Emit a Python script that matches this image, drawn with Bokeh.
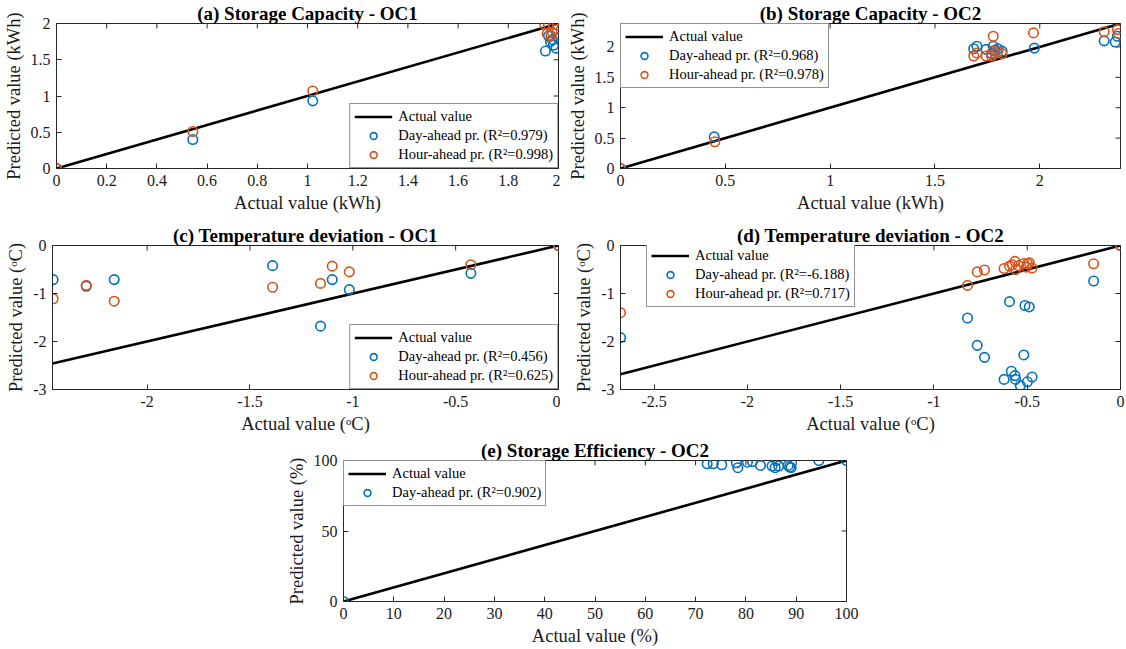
from bokeh.plotting import figure
from bokeh.layouts import column, row
from bokeh.models import FixedTicker, CustomJSTickFormatter, Range1d, Legend, LegendItem, Spacer
from bokeh.embed import file_html
from bokeh.resources import INLINE

BLUE = "#0072BD"
ORANGE = "#D95319"
FONT = "Liberation Serif"
AXIS_COLOR = "#262626"

# ---------------- (a) Storage Capacity - OC1 ----------------
a_range = [0.0, 2.0]
a_day_actual = [0.0, 0.543, 1.021, 1.948, 1.96, 1.968, 1.98, 1.99, 2.0, 1.975]
a_day_pred = [0.0, 0.40, 0.933, 1.62, 1.83, 1.75, 1.70, 1.66, 1.81, 1.78]
a_hour_actual = [0.0, 0.543, 1.021, 1.945, 1.96, 1.98, 1.995, 1.955, 1.975, 1.995, 1.97]
a_hour_pred = [0.0, 0.51, 1.07, 1.99, 1.98, 1.99, 1.98, 1.86, 1.88, 1.92, 1.83]
a_xticks = [0, 0.2, 0.4, 0.6, 0.8, 1, 1.2, 1.4, 1.6, 1.8, 2]
a_yticks = [0, 0.5, 1, 1.5, 2]

# ---------------- (b) Storage Capacity - OC2 ----------------
b_range = [0.0, 2.385]
b_day_actual = [0.0, 0.447, 1.685, 1.70, 1.744, 1.778, 1.787, 1.80, 1.82, 1.77,
                1.974, 2.307, 2.36, 2.37]
b_day_pred = [0.0, 0.52, 1.97, 2.01, 1.96, 2.01, 1.945, 1.97, 1.93, 1.89,
              1.98, 2.10, 2.08, 2.175]
b_hour_actual = [0.0, 0.45, 1.685, 1.70, 1.744, 1.778, 1.77, 1.787, 1.80, 1.82, 1.778,
                 1.97, 2.307, 2.37, 2.375]
b_hour_pred = [0.0, 0.44, 1.85, 1.90, 1.85, 2.175, 1.85, 1.89, 1.92, 1.89, 1.935,
               2.23, 2.25, 2.285, 2.22]
b_xticks = [0, 0.5, 1, 1.5, 2]
b_yticks = [0, 0.5, 1, 1.5, 2]

# ---------------- (c) Temperature deviation - OC1 ----------------
c_xrange = [-2.46, 0.0]
c_yrange = [-3.0, 0.0]
c_day_actual = [-2.457, -2.296, -2.16, -1.39, -1.10, -1.017, -1.157, -0.426, 0.0]
c_day_pred = [-0.71, -0.85, -0.71, -0.42, -0.71, -0.92, -1.68, -0.58, 0.0]
c_hour_actual = [-2.457, -2.296, -2.16, -1.39, -1.157, -1.10, -1.017, -0.426, 0.0]
c_hour_pred = [-1.11, -0.83, -1.16, -0.87, -0.79, -0.43, -0.55, -0.40, 0.0]
c_xticks = [-2, -1.5, -1, -0.5, 0]
c_yticks = [-3, -2, -1, 0]

# ---------------- (d) Temperature deviation - OC2 ----------------
d_xrange = [-2.68, 0.0]
d_yrange = [-3.0, 0.0]
d_day_actual = [-2.68, -0.82, -0.768, -0.729, -0.595, -0.512, -0.489, -0.518, -0.624,
                -0.585, -0.566, -0.562, -0.537, -0.499, -0.474, -0.144, 0.0]
d_day_pred = [-1.92, -1.51, -2.08, -2.33, -1.17, -1.25, -1.28, -2.28, -2.79,
              -2.62, -2.71, -2.79, -2.92, -2.84, -2.74, -0.74, 0.0]
d_hour_actual = [-2.68, -0.82, -0.768, -0.729, -0.624, -0.595, -0.580, -0.566, -0.562,
                 -0.547, -0.518, -0.505, -0.499, -0.489, -0.474, -0.144, 0.0]
d_hour_pred = [-1.40, -0.83, -0.55, -0.51, -0.48, -0.43, -0.40, -0.33, -0.50,
               -0.42, -0.375, -0.45, -0.38, -0.36, -0.47, -0.38, 0.0]
d_xticks = [-2.5, -2, -1.5, -1, -0.5, 0]
d_yticks = [-3, -2, -1, 0]

# ---------------- (e) Storage Efficiency - OC2 ----------------
e_range = [0.0, 100.0]
e_day_actual = [0.0, 72.3, 73.5, 75.2, 78.1, 78.4, 80.3, 81.3, 82.9, 85.2, 85.8,
                86.1, 86.5, 88.4, 88.7, 89.0, 94.5, 100.0]
e_day_pred = [0.0, 97.7, 97.7, 97.0, 98.4, 94.9, 98.8, 99.3, 96.5, 96.1, 94.9,
              100.0, 96.1, 96.5, 95.4, 94.9, 100.0, 100.0]
e_xticks = [0, 10, 20, 30, 40, 50, 60, 70, 80, 90, 100]
e_yticks = [0, 50, 100]

FMT = "return (Math.round(tick * 1000) / 1000).toString();"
TICK_LEN = 5  # inward tick length in screen pixels


def style_axis(ax, ticks):
    ax.ticker = FixedTicker(ticks=ticks)
    ax.formatter = CustomJSTickFormatter(code=FMT)
    ax.minor_tick_line_color = None
    ax.major_tick_in = TICK_LEN
    ax.major_tick_out = 0
    ax.axis_line_color = AXIS_COLOR
    ax.major_tick_line_color = AXIS_COLOR
    ax.major_label_text_font = FONT
    ax.axis_label_text_font = FONT
    ax.axis_label_text_font_style = "normal"
    ax.axis_label_text_color = "#1a1a1a"
    ax.major_label_text_color = "#1a1a1a"
    ax.major_label_text_font_size = "16px"
    ax.axis_label_text_font_size = "18.5px"
    ax.major_label_standoff = 6
    ax.axis_label_standoff = 4


def mirror_ticks(p, xr, yr, xticks, yticks, fw, fh):
    # inward ticks on the top and right edges of the box
    dy = (yr[1] - yr[0]) * TICK_LEN / fh
    dx = (xr[1] - xr[0]) * TICK_LEN / fw
    p.segment(x0=xticks, x1=xticks, y0=[yr[1]] * len(xticks), y1=[yr[1] - dy] * len(xticks),
              line_color=AXIS_COLOR, line_width=1)
    p.segment(x0=[xr[1]] * len(yticks), x1=[xr[1] - dx] * len(yticks), y0=yticks, y1=yticks,
              line_color=AXIS_COLOR, line_width=1)


def make_panel(title, xr, yr, xticks, yticks, xlabel, ylabel, width, height,
               left, right, top, bottom):
    p = figure(width=width, height=height, x_range=Range1d(*xr), y_range=Range1d(*yr),
               output_backend="svg", toolbar_location=None, title=title,
               min_border_left=left, min_border_right=right,
               min_border_top=top, min_border_bottom=bottom)
    p.title.text_font = FONT
    p.title.text_font_style = "bold"
    p.title.text_font_size = "19px"
    p.title.align = "center"
    p.title.text_color = "#000000"
    p.title.standoff = 0
    p.title.offset = 0
    p.xgrid.visible = False
    p.ygrid.visible = False
    p.outline_line_color = AXIS_COLOR
    p.background_fill_color = "white"
    p.border_fill_color = "white"
    p.xaxis.axis_label = xlabel
    p.yaxis.axis_label = ylabel
    style_axis(p.xaxis[0], xticks)
    style_axis(p.yaxis[0], yticks)
    mirror_ticks(p, xr, yr, xticks, yticks, width - left - right, height - top - bottom)
    return p


def add_legend(p, items, location):
    leg = Legend(items=items, location=location)
    leg.label_text_font = FONT
    leg.label_text_font_size = "14.5px"
    leg.label_text_color = "#000000"
    leg.border_line_color = AXIS_COLOR
    leg.border_line_width = 1
    leg.background_fill_color = "white"
    leg.background_fill_alpha = 1.0
    leg.margin = 0
    leg.padding = 4
    leg.spacing = 2
    leg.glyph_width = 38
    leg.glyph_height = 17
    leg.label_height = 17
    leg.label_standoff = 6
    p.add_layout(leg, "center")


def draw(p, line_range, series):
    ln = p.line(x=line_range, y=line_range, line_color="black", line_width=2.6)
    items = [LegendItem(label="Actual value", renderers=[ln])]
    for xs, ys, color, label in series:
        r = p.scatter(x=xs, y=ys, marker="circle", size=9.5, fill_color=None,
                      line_color=color, line_width=1.6)
        items.append(LegendItem(label=label, renderers=[r]))
    return items


# Row 1
pa = make_panel("(a) Storage Capacity - OC1", a_range, a_range, a_xticks, a_yticks,
                "Actual value (kWh)", "Predicted value (kWh)", 560, 222, 52, 2, 21, 54)
items = draw(pa, a_range, [
    (a_day_actual, a_day_pred, BLUE, "Day-ahead pr. (R²=0.979)"),
    (a_hour_actual, a_hour_pred, ORANGE, "Hour-ahead pr. (R²=0.998)"),
])
add_legend(pa, items, "bottom_right")

pb = make_panel("(b) Storage Capacity - OC2", b_range, b_range, b_xticks, b_yticks,
                "Actual value (kWh)", "Predicted value (kWh)", 566, 222, 60, 6, 21, 54)
items = draw(pb, b_range, [
    (b_day_actual, b_day_pred, BLUE, "Day-ahead pr. (R²=0.968)"),
    (b_hour_actual, b_hour_pred, ORANGE, "Hour-ahead pr. (R²=0.978)"),
])
add_legend(pb, items, "top_left")

# Row 2
pc = make_panel("(c) Temperature deviation - OC1", c_xrange, c_yrange, c_xticks, c_yticks,
                "Actual value (ᵒC)", "Predicted value (ᵒC)", 560, 215, 52, 2, 22, 48)
items = draw(pc, c_xrange, [
    (c_day_actual, c_day_pred, BLUE, "Day-ahead pr. (R²=0.456)"),
    (c_hour_actual, c_hour_pred, ORANGE, "Hour-ahead pr. (R²=0.625)"),
])
add_legend(pc, items, "bottom_right")

pd_ = make_panel("(d) Temperature deviation - OC2", d_xrange, d_yrange, d_xticks, d_yticks,
                 "Actual value (ᵒC)", "Predicted value (ᵒC)", 566, 215, 60, 6, 22, 48)
items = draw(pd_, d_xrange, [
    (d_day_actual, d_day_pred, BLUE, "Day-ahead pr. (R²=-6.188)"),
    (d_hour_actual, d_hour_pred, ORANGE, "Hour-ahead pr. (R²=0.717)"),
])
add_legend(pd_, items, (26, 145 - 63))

# Row 3
pe = make_panel("(e) Storage Efficiency - OC2", e_range, e_range, e_xticks, e_yticks,
                "Actual value (%)", "Predicted value (%)", 578, 212, 63, 12, 20, 48)
items = draw(pe, e_range, [
    (e_day_actual, e_day_pred, BLUE, "Day-ahead pr. (R²=0.902)"),
])
add_legend(pe, items, "top_left")

layout = column(
    row(pa, pb, spacing=0),
    row(pc, pd_, spacing=0),
    row(Spacer(width=280, height=212), pe, spacing=0),
    spacing=0,
)

open("out.html", "w").write(file_html(layout, INLINE))
